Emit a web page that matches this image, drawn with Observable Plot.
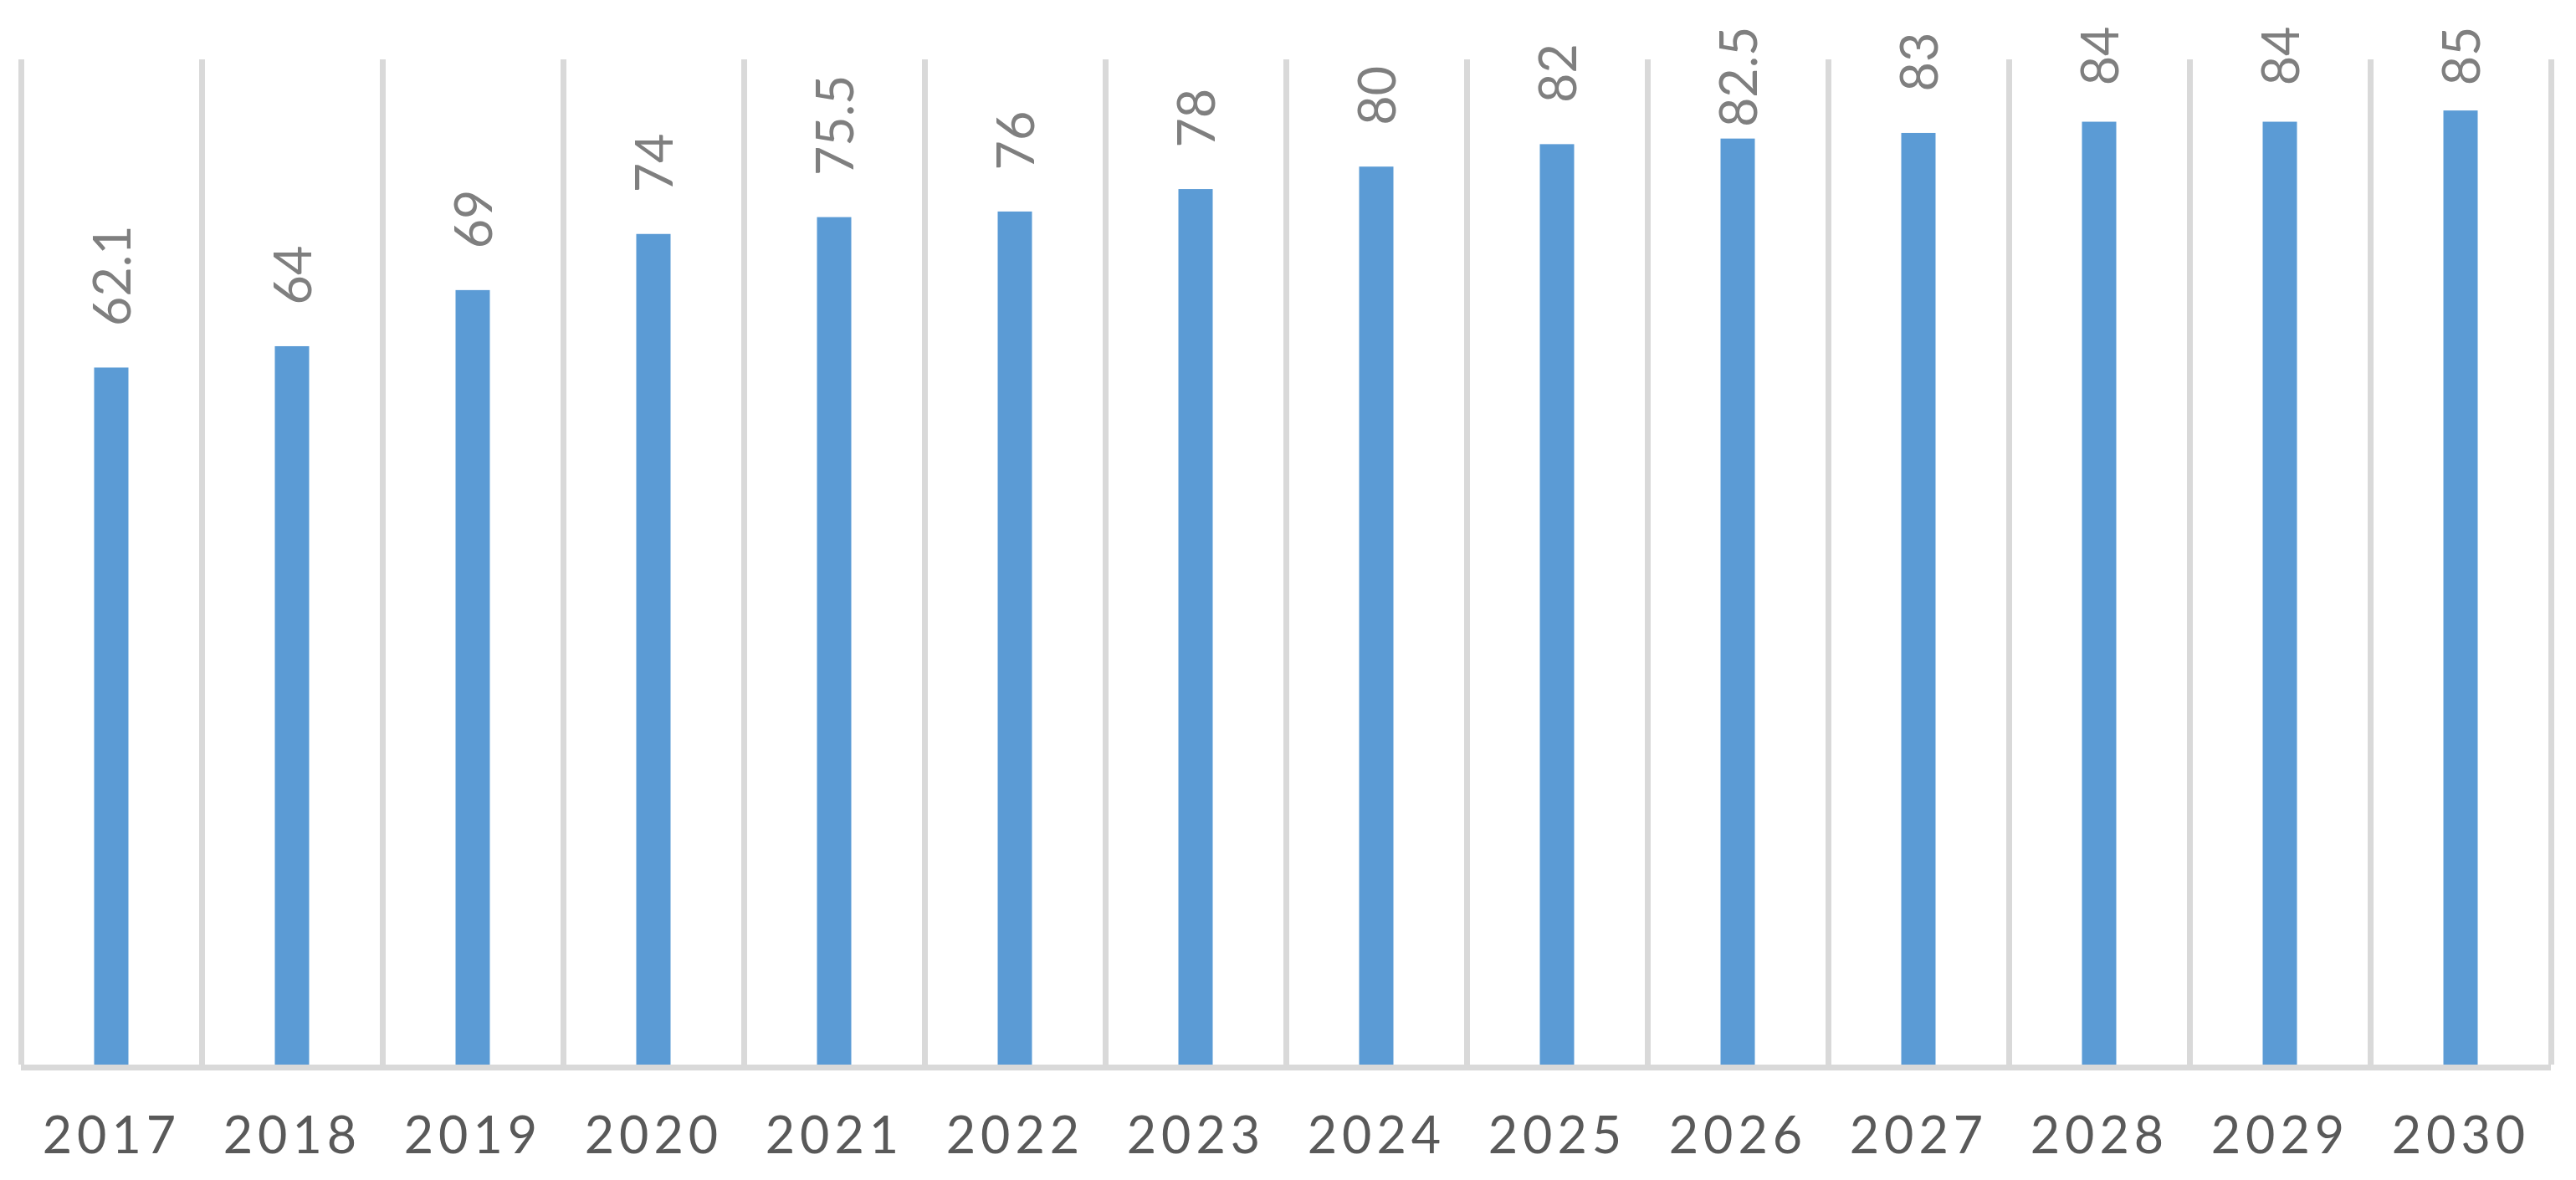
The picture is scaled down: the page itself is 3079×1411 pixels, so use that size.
<!DOCTYPE html>
<html>
<head>
<meta charset="utf-8">
<script src="https://cdn.jsdelivr.net/npm/d3@7"></script>
<script src="https://cdn.jsdelivr.net/npm/@observablehq/plot@0.6"></script>
<style>
  html, body { margin: 0; padding: 0; background: #ffffff; }
  #chart { width: 3079px; height: 1411px; }
</style>
</head>
<body>
<div id="chart"></div>
<script>
const years = ["2017","2018","2019","2020","2021","2022","2023","2024","2025","2026","2027","2028","2029","2030"];
const values = [62.1, 64, 69, 74, 75.5, 76, 78, 80, 82, 82.5, 83, 84, 84, 85];
const yMax = 90;

const data = years.map((year, i) => ({year, value: values[i]}));

const W = 3079, H = 1411;
const mL = 25, mR = 30, mT = 65, mB = 138;
const step = (W - mL - mR) / years.length;
const barW = 41;
const labelGap = -50;

const chart = Plot.plot({
  width: W,
  height: H,
  marginLeft: mL,
  marginRight: mR,
  marginTop: mT,
  marginBottom: mB,
  style: {fontFamily: "Lato, 'Open Sans', sans-serif", background: "#ffffff", overflow: "visible"},
  x: {type: "band", domain: years, padding: 0, axis: null},
  y: {domain: [0, yMax], axis: null},
  marks: [
    // vertical category separators
    Plot.ruleX(years, {x: d => d, dx: -step / 2, y1: 0, y2: yMax, stroke: "#d9d9d9", strokeWidth: 7, insetBottom: -6}),
    Plot.ruleX([years[years.length - 1]], {x: d => d, dx: step / 2, y1: 0, y2: yMax, stroke: "#d9d9d9", strokeWidth: 7, insetBottom: -6}),
    // baseline
    Plot.ruleY([0], {stroke: "#d9d9d9", strokeWidth: 7, dy: 3}),
    // bars
    Plot.barY(data, {x: "year", y: "value", fill: "#5b9bd5", insetLeft: (step - barW) / 2, insetRight: (step - barW) / 2}),
    // value labels
    Plot.text(data, {
      x: "year", y: "value", text: d => String(d.value),
      rotate: -90, textAnchor: "start", lineAnchor: "middle",
      dy: labelGap, dx: 3, fontSize: 61, fill: "#7f7f7f", ariaDescription: "values"
    }),
    // category labels
    Plot.text(data, {
      x: "year", y: () => 0, text: "year",
      lineAnchor: "middle", dy: 86, fontSize: 61, fill: "#595959", ariaDescription: "xlabels"
    })
  ]
});

document.getElementById("chart").appendChild(chart);

const textGroups = chart.querySelectorAll('g[aria-label="text"]');
const valueGroup = chart.querySelector('g[aria-description="values"]') || textGroups[0];
const labelGroup = chart.querySelector('g[aria-description="xlabels"]') || textGroups[1];

labelGroup.querySelectorAll("text").forEach(t => t.setAttribute("letter-spacing", 6));

// keep value labels inside the chart area (as the original does)
const limit = 31;
valueGroup.querySelectorAll("text").forEach(t => {
  const tr = t.getAttribute("transform") || "";
  const m = /translate\(\s*([-\d.e]+)[ ,]+([-\d.e]+)\s*\)/.exec(tr);
  if (!m) return;
  const anchorY = parseFloat(m[2]) + labelGap;
  const len = t.getComputedTextLength();
  const top = anchorY - len;
  if (top < limit) {
    t.setAttribute("transform", `translate(0,${limit - top}) ` + tr);
  }
});
</script>
</body>
</html>
